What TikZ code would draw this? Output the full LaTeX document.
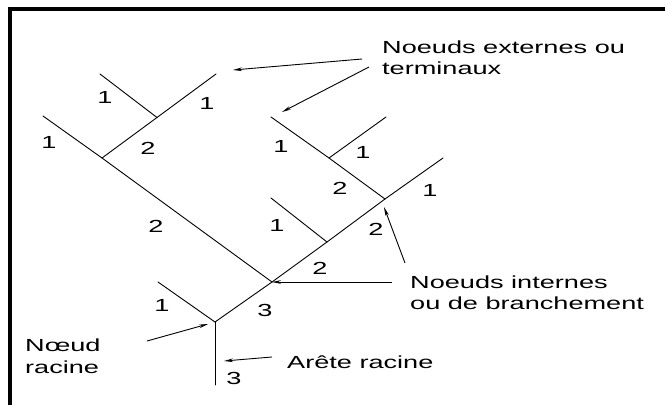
\documentclass[tikz,border=0pt]{standalone}
\usepackage{fontspec}
\usepackage{graphicx}
\newfontfamily\lblfont{Liberation Sans}
\newcommand\stretchtxt[1]{\scalebox{1.55}[1]{#1}}
\newcommand\stretchlines[1]{\scalebox{1.55}[1]{\begin{tabular}[t]{@{}l@{}}#1\end{tabular}}}
\usetikzlibrary{arrows.meta}
\begin{document}
\begin{tikzpicture}[x=1pt,y=-1pt,
  edge/.style={line width=0.9pt,line cap=round},
  ptr/.style={line width=0.9pt,-{Stealth[length=9pt,width=3.6pt]}},
  num/.style={inner sep=0pt,font=\lblfont\fontsize{17.5}{21.5}\selectfont},
  txt/.style={inner sep=0pt,font=\lblfont\fontsize{17.5}{21.5}\selectfont},
  frameline/.style={line width=3.2pt}]
\useasboundingbox (0,0) rectangle (665,405);
\fill[white] (0,0) rectangle (665,405);
\draw[frameline] (10,405) -- (10,9) -- (665,9);

% tree points
\coordinate (G) at (215,322);
\coordinate (R) at (215,385);
\coordinate (L1) at (158,282);
\coordinate (F) at (272,282);
\coordinate (B) at (102,158);
\coordinate (Lfar) at (43,116);
\coordinate (A) at (157,117.5);
\coordinate (LA1) at (100,74);
\coordinate (LA2) at (216,74);
\coordinate (E) at (327,242);
\coordinate (LE) at (271,198);
\coordinate (D) at (385,199);
\coordinate (LD) at (443,158);
\coordinate (C) at (329,158);
\coordinate (LC1) at (271,117);
\coordinate (LC2) at (386,117);

% edges
\draw[edge] (R) -- (G);
\draw[edge] (G) -- (L1);
\draw[edge] (G) -- (F);
\draw[edge] (F) -- (B) -- (Lfar);
\draw[edge] (B) -- (A) -- (LA2);
\draw[edge] (A) -- (LA1);
\draw[edge] (F) -- (E) -- (D) -- (LD);
\draw[edge] (E) -- (LE);
\draw[edge] (D) -- (C) -- (LC1);
\draw[edge] (C) -- (LC2);

% edge weights
\node[num] (w1) at (105,97) {\stretchtxt{1}};
\node[num] (w2) at (207,103) {\stretchtxt{1}};
\node[num] (w3) at (49,142) {\stretchtxt{1}};
\node[num] (w4) at (148,148) {\stretchtxt{2}};
\node[num] (w5) at (156,226) {\stretchtxt{2}};
\node[num] (w6) at (281,146) {\stretchtxt{1}};
\node[num] (w7) at (363,152) {\stretchtxt{1}};
\node[num] (w8) at (340,188) {\stretchtxt{2}};
\node[num] (w9) at (430,190) {\stretchtxt{1}};
\node[num] (w10) at (277,225) {\stretchtxt{1}};
\node[num] (w11) at (376,229) {\stretchtxt{2}};
\node[num] (w12) at (320,268) {\stretchtxt{2}};
\node[num] (w13) at (162,305) {\stretchtxt{1}};
\node[num] (w14) at (265,310) {\stretchtxt{3}};
\node[num] (w15) at (234,378) {\stretchtxt{3}};

% labels
\node[txt,anchor=base west] (ext) at (382,53.3) {\stretchlines{Noeuds externes ou\\terminaux}};
\node[txt,anchor=base west] (int) at (410,288) {\stretchlines{Noeuds internes\\ou de branchement}};
\node[txt,anchor=base west] (rootlbl) at (25,351.7) {\stretchlines{Nœud\\racine}};
\node[txt,anchor=base west] (arete) at (287,368) {\stretchtxt{Arête racine}};

% pointer ends
\coordinate (p1s) at (362,59);  \coordinate (p1e) at (233,70);
\coordinate (p2s) at (369,67);  \coordinate (p2e) at (282,112);
\coordinate (p3s) at (392,282);
\coordinate (p4s) at (405,263); \coordinate (p4e) at (384,207);
\coordinate (p5s) at (147,341); \coordinate (p5e) at (208,324);
\coordinate (p6s) at (272,357); \coordinate (p6e) at (224,361);

\draw[ptr] (p1s) -- (p1e);
\draw[ptr] (p2s) -- (p2e);
\draw[ptr] (p3s) -- (F);
\draw[ptr] (p4s) -- (p4e);
\draw[ptr] (p5s) -- (p5e);
\draw[ptr] (p6s) -- (p6e);
\end{tikzpicture}
\end{document}
